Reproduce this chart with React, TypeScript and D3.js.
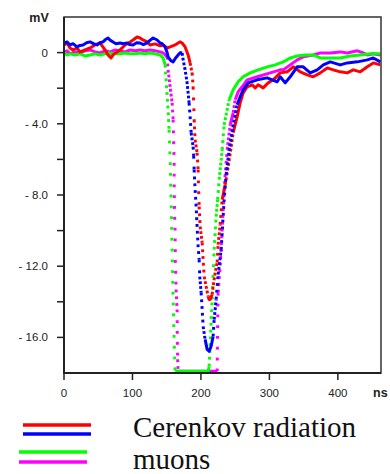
import * as d3 from "d3";

// time (ns), signal (mV)
const redTrace: [number, number][] = [
  [0, 0.43], [4.4, 0.54], [8.8, 0.26], [13.2, 0.15], [19, 0.26], [23.4, 0.04], [30.7, 0.15],
  [38, 0.26], [45.3, 0.43], [52.6, 0.54], [59.9, 0.15], [64.3, -0.13], [68.7, -0.3], [71.6, -0.13],
  [77.5, 0.04], [81.9, 0.15], [89.2, 0.43], [96.5, 0.6], [100.9, 0.71], [106.7, 0.88], [111.1, 0.82],
  [115.5, 0.71], [121.3, 0.6], [125.7, 0.43], [133, 0.49], [140.4, 0.38], [144.7, 0.43], [150.6, 0.26],
  [155, 0.32], [162.3, 0.43], [166.7, 0.54], [169.6, 0.6], [172.5, 0.54], [176.9, 0.32], [181.3, -0.13],
  [184.2, -0.58], [187.1, -1.14], [188.6, -1.92], [189.4, -2.82], [190.1, -3.77], [191.5, -4.9],
  [194.4, -5.63], [195.9, -6.58], [196.6, -7.7], [197.4, -8.65], [198.8, -9.77], [201.8, -10.67],
  [203.2, -11.63], [204.7, -12.58], [207.6, -13.14], [210.5, -13.7], [212, -13.87], [213.5, -13.87],
  [216.4, -13.59], [217.8, -13.14], [220.8, -12.36], [223.7, -11.79], [225.1, -10.79], [228.1, -9.67],
  [231, -8.26], [235.4, -7.42], [239.8, -6.41], [243.5, -5.46], [247.1, -4.5], [252.9, -3.61],
  [257.3, -2.82], [261.7, -2.26], [267.5, -1.92], [274.9, -1.81], [279.2, -1.98], [283.6, -1.81],
  [290.9, -1.98], [298.2, -1.7], [305.6, -1.53], [315.8, -1.14], [326, -1.08], [334.8, -0.8],
  [345, -1.08], [355.3, -1.25], [364, -1.36], [374.3, -1.14], [384.5, -0.86], [393.3, -0.97],
  [403.5, -1.08], [413.7, -1.14], [422.5, -0.97], [432.7, -1.08], [443, -0.8], [451.8, -0.58], [462, -0.69],
];

const blueTrace: [number, number][] = [
  [0, 0.6], [1.5, 0.54], [4.4, 0.6], [8.8, 0.43], [13.2, 0.5], [19, 0.32], [23.4, 0.4], [27.8, 0.43],
  [33, 0.55], [38, 0.6], [43, 0.5], [48.2, 0.43], [52.6, 0.55], [57, 0.6], [61, 0.75], [64.3, 0.82],
  [67.3, 0.7], [71.6, 0.6], [76, 0.5], [81.9, 0.54], [87, 0.5], [92.1, 0.54], [96, 0.45], [100.9, 0.43],
  [106, 0.55], [111.1, 0.54], [116, 0.45], [121.3, 0.54], [126, 0.7], [130.1, 0.82], [134, 0.75],
  [136, 0.71], [140.4, 0.54], [143.3, 0.5], [147.7, 0.32], [150.6, 0.0], [152, -0.24], [156, -0.45],
  [159.4, -0.52], [163, -0.3], [166.7, -0.13], [170, 0.0], [172.5, -0.02], [174, -0.41], [176.9, -0.97],
  [179.8, -1.7], [181.3, -2.26], [182.7, -2.82], [184.2, -3.61], [185.7, -4.5], [188.6, -5.29],
  [189.4, -5.8], [190.1, -6.58], [191.5, -7.7], [193, -8.65], [194.4, -9.77], [195.9, -10.9],
  [197.4, -11.63], [198.3, -12.58], [200.3, -13.48], [201.8, -14.43], [203.2, -15.38], [206.1, -16.11],
  [209.1, -16.67], [212, -16.78], [214.9, -16.5], [217.8, -15.95], [219.3, -15.0], [222.2, -13.87],
  [225.1, -12.47], [229.5, -11.07], [231.7, -9.67], [233.9, -8.26], [236.8, -6.86], [241.2, -5.46],
  [247.1, -4.06], [252.9, -2.93], [257.3, -2.48], [261.7, -2.09], [269, -1.7], [282.2, -1.53],
  [296.8, -1.42], [311.4, -1.64], [315.8, -1.36], [323.1, -1.7], [330.4, -1.36], [340.6, -0.8],
  [349.4, -0.8], [359.6, -1.14], [369.9, -0.97], [378.7, -0.69], [388.9, -0.52], [403.5, -0.69],
  [413.7, -0.58], [428.4, -0.52], [443, -0.41], [451.8, -0.3], [462, -0.52],
];

const greenTrace: [number, number][] = [
  [0, -0.02], [4.4, -0.13], [8.8, -0.07], [16.1, -0.13], [23.4, -0.07], [30.7, -0.19], [38, -0.13],
  [45.3, -0.07], [52.6, -0.13], [59.9, -0.07], [67.3, -0.02], [74.6, -0.07], [81.9, -0.07],
  [89.2, -0.02], [96.5, -0.07], [103.8, -0.07], [111.1, -0.02], [118.4, -0.07], [125.7, -0.02],
  [133, -0.07], [140.4, -0.13], [144.7, -0.3], [147.7, -0.69], [149.1, -1.53], [150.6, -2.37],
  [152, -3.21], [153.5, -4.34], [155, -6.02], [156.4, -8.26], [157.9, -11.07], [159.4, -13.87],
  [160.8, -16.11], [162.3, -17.9], [210.5, -17.9], [212, -17.63], [214.2, -15.72], [216.4, -13.87],
  [219.3, -11.07], [222.2, -9.21], [224.4, -8.26], [226.6, -7.14], [231, -5.46], [233.9, -4.06],
  [238.3, -3.21], [241.2, -2.65], [247.1, -2.09], [254.4, -1.64], [261.7, -1.36], [271.9, -1.14],
  [283.6, -0.97], [296.8, -0.8], [308.5, -0.69], [320.2, -0.52], [330.4, -0.3], [340.6, -0.19],
  [352.3, -0.13], [364, -0.13], [374.3, -0.3], [388.9, -0.3], [403.5, -0.3], [418.1, -0.19],
  [432.7, -0.13], [447.4, -0.07], [462, -0.07],
];

const magentaTrace: [number, number][] = [
  [0, -0.02], [4.4, 0.1], [8.8, -0.07], [16.1, 0.04], [23.4, -0.02], [30.7, 0.1], [38, 0.15],
  [45.3, 0.04], [52.6, -0.02], [59.9, 0.1], [67.3, 0.04], [74.6, 0.15], [81.9, 0.1], [89.2, 0.04],
  [96.5, 0.15], [103.8, 0.1], [111.1, 0.15], [118.4, 0.1], [125.7, 0.15], [133, 0.1], [140.4, 0.04],
  [144.7, -0.02], [147.7, -0.13], [150.6, -0.24], [152, -0.97], [153.5, -1.42], [155, -1.92],
  [156.4, -2.37], [157.9, -2.82], [159.4, -3.77], [160.1, -4.9], [160.8, -6.02], [161, -7.81],
  [161.5, -9.1], [162.3, -10.11], [162.6, -11.74], [163.7, -13.31], [165.2, -14.43], [165.5, -16.11],
  [166, -17.23], [166.7, -17.9], [223.7, -17.9], [224.4, -15.38], [225.1, -13.48], [228.1, -12.02],
  [229.5, -11.07], [233.2, -8.26], [235.4, -6.86], [238.3, -5.46], [242.7, -4.06], [247.1, -3.38],
  [250, -2.65], [254.4, -2.2], [260.2, -1.92], [267.5, -1.53], [282.2, -1.36], [301.2, -1.14],
  [315.8, -0.97], [320.2, -0.97], [330.4, -0.69], [340.6, -0.41], [349.4, -0.24], [364, -0.13],
  [374.3, -0.02], [388.9, -0.02], [403.5, 0.04], [413.7, -0.02], [428.4, 0.1], [437.1, -0.02],
  [443, -0.13], [451.8, -0.07], [462, -0.13],
];

const xTicks = [0, 100, 200, 300, 400];
const yTicks = [0, -2, -4, -6, -8, -10, -12, -14, -16];
const yLabels = [0, -4, -8, -12, -16];

const series = [
  { name: "muons", color: "#ff00ff", data: magentaTrace },
  { name: "muons", color: "#00ff00", data: greenTrace },
  { name: "Cerenkov radiation", color: "#ff0000", data: redTrace },
  { name: "Cerenkov radiation", color: "#0000ff", data: blueTrace },
];

const width = 390;
const height = 474;
const plot = { left: 64, right: 381, top: 17, bottom: 373 };

const x = d3.scaleLinear().domain([0, 463]).range([plot.left, plot.right]);
const y = d3.scaleLinear().domain([-18, 2]).range([plot.bottom, plot.top]);

// scope samples show up as separated dots where the trace is steep
function gapFor(a: [number, number], b: [number, number]) {
  const dx = Math.abs(x(b[0]) - x(a[0]));
  const dy = Math.abs(y(b[1]) - y(a[1]));
  const s = dy / Math.max(dx, 0.3);
  if (s < 5) return 0;
  if (s < 12) return 2;
  if (s < 25) return 4;
  return 8;
}

function Trace({ data, color }: { data: [number, number][]; color: string }) {
  const runs: { gap: number; pts: [number, number][] }[] = [];
  d3.pairs(data).forEach(([a, b]) => {
    const g = gapFor(a, b);
    const last = runs[runs.length - 1];
    if (last && last.gap === g) last.pts.push(b);
    else runs.push({ gap: g, pts: [a, b] });
  });
  const line = d3
    .line<[number, number]>()
    .x((d) => x(d[0]))
    .y((d) => y(d[1]));
  return (
    <g>
      {runs.map((r, i) => (
        <path
          key={i}
          d={line(r.pts) || ""}
          fill="none"
          stroke={color}
          strokeWidth={3}
          strokeLinejoin="round"
          strokeDasharray={r.gap ? `2.8 ${r.gap}` : undefined}
        />
      ))}
    </g>
  );
}

export default function App() {
  const fmt = (v: number) => (v === 0 ? "0" : `- ${Math.abs(v).toFixed(1)}`);
  return (
    <svg
      width={width}
      height={height}
      style={{ position: "absolute", left: 0, top: 0, background: "#fff" }}
    >
      {series.map((s, i) => (
        <Trace key={i} data={s.data} color={s.color} />
      ))}

      {/* frame */}
      <rect
        x={plot.left}
        y={plot.top}
        width={plot.right - plot.left}
        height={plot.bottom - plot.top}
        fill="none"
        stroke="#333"
        strokeWidth={1.5}
      />
      <line x1={plot.left} x2={plot.left} y1={plot.top} y2={plot.bottom} stroke="#222" strokeWidth={2} />
      <line x1={plot.left - 1} x2={plot.right} y1={plot.bottom} y2={plot.bottom} stroke="#222" strokeWidth={2} />

      {/* y axis */}
      {yTicks.map((t) => (
        <line key={t} x1={plot.left - 7} x2={plot.left} y1={y(t)} y2={y(t)} stroke="#222" strokeWidth={1.5} />
      ))}
      {yLabels.map((t) => (
        <text
          key={t}
          x={48}
          y={y(t)}
          dy="0.35em"
          textAnchor="end"
          fontFamily="Liberation Sans, Arial, sans-serif"
          fontSize={11.5}
          fill="#222"
        >
          {fmt(t)}
        </text>
      ))}
      <text x={39} y={22} textAnchor="middle" fontFamily="Liberation Sans, Arial, sans-serif" fontSize={12.5} fontWeight="bold" fill="#222">
        mV
      </text>

      {/* x axis */}
      {xTicks.map((t) => (
        <g key={t} transform={`translate(${x(t)}, ${plot.bottom})`}>
          <line y2={7} stroke="#222" strokeWidth={1.5} />
          <text y={24} textAnchor="middle" fontFamily="Liberation Sans, Arial, sans-serif" fontSize={11.5} fill="#222">
            {t}
          </text>
        </g>
      ))}
      <text x={373} y={397} fontFamily="Liberation Sans, Arial, sans-serif" fontSize={12.5} fontWeight="bold" fill="#222">
        ns
      </text>

      {/* legend */}
      <line x1={23} x2={91} y1={425} y2={425} stroke="#ff0000" strokeWidth={3.5} />
      <line x1={23} x2={91} y1={434} y2={434} stroke="#0000ff" strokeWidth={3.5} />
      <line x1={19} x2={87} y1={452} y2={452} stroke="#00ff00" strokeWidth={3.5} />
      <line x1={19} x2={87} y1={462} y2={462} stroke="#ff00ff" strokeWidth={3.5} />
      <text x={133} y={437} fontFamily="Liberation Serif, Times New Roman, serif" fontSize={29} fill="#111">
        Cerenkov radiation
      </text>
      <text x={133} y={469} fontFamily="Liberation Serif, Times New Roman, serif" fontSize={29} fill="#111">
        muons
      </text>
    </svg>
  );
}
